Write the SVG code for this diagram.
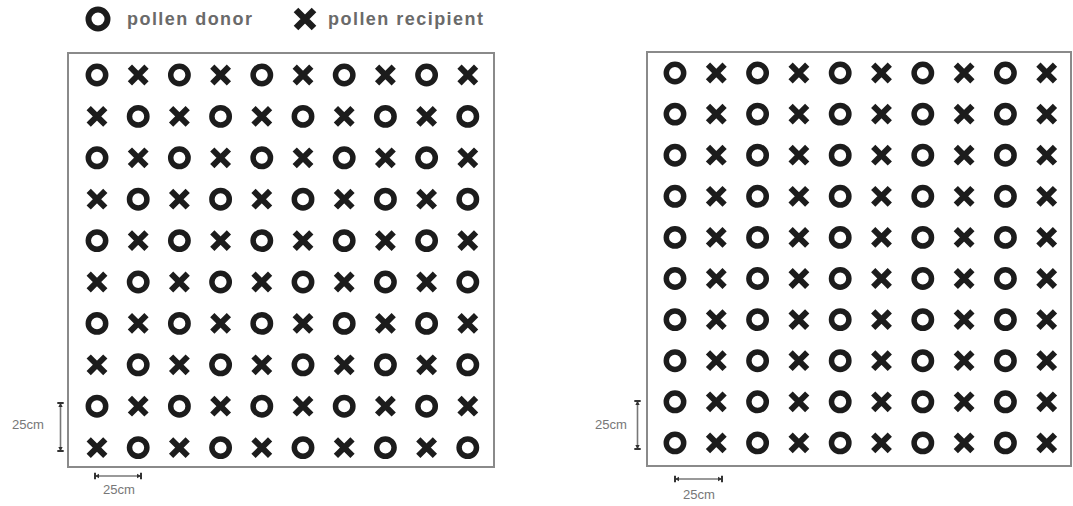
<svg xmlns="http://www.w3.org/2000/svg" width="1073" height="506" viewBox="0 0 1073 506">
<style>
.o{fill:none;stroke:#1c1c1c;stroke-width:5.5}
.x{stroke:#1c1c1c;stroke-width:6;stroke-linecap:butt}
.frame{fill:none;stroke:#8a8a8a;stroke-width:2}
.leg{font-family:"Liberation Sans",Arial,sans-serif;font-size:18px;font-weight:bold;fill:#6a6a6a}
.lbl{font-family:"Liberation Sans",Arial,sans-serif;font-size:12px;fill:#777}
.bar{stroke:#777;stroke-width:1.6;fill:none}
</style>
<defs>
<g id="O"><circle r="8.7" class="o"/></g>
<g id="X"><path d="M-8.3,-8.3L8.3,8.3M8.3,-8.3L-8.3,8.3" class="x"/></g>
<g id="OL"><circle r="9.5" fill="none" stroke="#1c1c1c" stroke-width="6"/></g>
<g id="XL"><path d="M-9,-9L9,9M9,-9L-9,9" stroke="#1c1c1c" stroke-width="6.5"/></g>
<marker id="cap" viewBox="-4 -4 8 8" markerWidth="8" markerHeight="8" refX="0" refY="0" orient="auto" markerUnits="userSpaceOnUse">
<path d="M0,-3.2V3.2" stroke="#333" stroke-width="2"/>
<path d="M-4,-2.2L0,0L-4,2.2Z" fill="#333"/>
</marker>
<marker id="capS" viewBox="-4 -4 8 8" markerWidth="8" markerHeight="8" refX="0" refY="0" orient="auto-start-reverse" markerUnits="userSpaceOnUse">
<path d="M0,-3.2V3.2" stroke="#333" stroke-width="2"/>
<path d="M-4,-2.2L0,0L-4,2.2Z" fill="#333"/>
</marker>
</defs>
<rect width="1073" height="506" fill="#fff"/>

<g id="legend">
<use href="#OL" x="98" y="19"/>
<text class="leg" x="127" y="25" textLength="125" lengthAdjust="spacing">pollen donor</text>
<use href="#XL" x="305" y="19"/>
<text class="leg" x="328" y="25" textLength="155" lengthAdjust="spacing">pollen recipient</text>
</g>

<g id="plot-left">
<rect class="frame" x="68" y="53" width="426" height="414"/>
<g id="grid-left">
<use href="#O" x="97" y="75"/><use href="#X" x="138.2" y="75"/><use href="#O" x="179.4" y="75"/><use href="#X" x="220.6" y="75"/><use href="#O" x="261.8" y="75"/><use href="#X" x="303" y="75"/><use href="#O" x="344.2" y="75"/><use href="#X" x="385.4" y="75"/><use href="#O" x="426.6" y="75"/><use href="#X" x="467.8" y="75"/>
<use href="#X" x="97" y="116.4"/><use href="#O" x="138.2" y="116.4"/><use href="#X" x="179.4" y="116.4"/><use href="#O" x="220.6" y="116.4"/><use href="#X" x="261.8" y="116.4"/><use href="#O" x="303" y="116.4"/><use href="#X" x="344.2" y="116.4"/><use href="#O" x="385.4" y="116.4"/><use href="#X" x="426.6" y="116.4"/><use href="#O" x="467.8" y="116.4"/>
<use href="#O" x="97" y="157.8"/><use href="#X" x="138.2" y="157.8"/><use href="#O" x="179.4" y="157.8"/><use href="#X" x="220.6" y="157.8"/><use href="#O" x="261.8" y="157.8"/><use href="#X" x="303" y="157.8"/><use href="#O" x="344.2" y="157.8"/><use href="#X" x="385.4" y="157.8"/><use href="#O" x="426.6" y="157.8"/><use href="#X" x="467.8" y="157.8"/>
<use href="#X" x="97" y="199.2"/><use href="#O" x="138.2" y="199.2"/><use href="#X" x="179.4" y="199.2"/><use href="#O" x="220.6" y="199.2"/><use href="#X" x="261.8" y="199.2"/><use href="#O" x="303" y="199.2"/><use href="#X" x="344.2" y="199.2"/><use href="#O" x="385.4" y="199.2"/><use href="#X" x="426.6" y="199.2"/><use href="#O" x="467.8" y="199.2"/>
<use href="#O" x="97" y="240.6"/><use href="#X" x="138.2" y="240.6"/><use href="#O" x="179.4" y="240.6"/><use href="#X" x="220.6" y="240.6"/><use href="#O" x="261.8" y="240.6"/><use href="#X" x="303" y="240.6"/><use href="#O" x="344.2" y="240.6"/><use href="#X" x="385.4" y="240.6"/><use href="#O" x="426.6" y="240.6"/><use href="#X" x="467.8" y="240.6"/>
<use href="#X" x="97" y="282"/><use href="#O" x="138.2" y="282"/><use href="#X" x="179.4" y="282"/><use href="#O" x="220.6" y="282"/><use href="#X" x="261.8" y="282"/><use href="#O" x="303" y="282"/><use href="#X" x="344.2" y="282"/><use href="#O" x="385.4" y="282"/><use href="#X" x="426.6" y="282"/><use href="#O" x="467.8" y="282"/>
<use href="#O" x="97" y="323.4"/><use href="#X" x="138.2" y="323.4"/><use href="#O" x="179.4" y="323.4"/><use href="#X" x="220.6" y="323.4"/><use href="#O" x="261.8" y="323.4"/><use href="#X" x="303" y="323.4"/><use href="#O" x="344.2" y="323.4"/><use href="#X" x="385.4" y="323.4"/><use href="#O" x="426.6" y="323.4"/><use href="#X" x="467.8" y="323.4"/>
<use href="#X" x="97" y="364.8"/><use href="#O" x="138.2" y="364.8"/><use href="#X" x="179.4" y="364.8"/><use href="#O" x="220.6" y="364.8"/><use href="#X" x="261.8" y="364.8"/><use href="#O" x="303" y="364.8"/><use href="#X" x="344.2" y="364.8"/><use href="#O" x="385.4" y="364.8"/><use href="#X" x="426.6" y="364.8"/><use href="#O" x="467.8" y="364.8"/>
<use href="#O" x="97" y="406.2"/><use href="#X" x="138.2" y="406.2"/><use href="#O" x="179.4" y="406.2"/><use href="#X" x="220.6" y="406.2"/><use href="#O" x="261.8" y="406.2"/><use href="#X" x="303" y="406.2"/><use href="#O" x="344.2" y="406.2"/><use href="#X" x="385.4" y="406.2"/><use href="#O" x="426.6" y="406.2"/><use href="#X" x="467.8" y="406.2"/>
<use href="#X" x="97" y="447.6"/><use href="#O" x="138.2" y="447.6"/><use href="#X" x="179.4" y="447.6"/><use href="#O" x="220.6" y="447.6"/><use href="#X" x="261.8" y="447.6"/><use href="#O" x="303" y="447.6"/><use href="#X" x="344.2" y="447.6"/><use href="#O" x="385.4" y="447.6"/><use href="#X" x="426.6" y="447.6"/><use href="#O" x="467.8" y="447.6"/>
</g>
</g>

<g id="plot-right">
<rect class="frame" x="647" y="52" width="424" height="414"/>
<g id="grid-right">
<use href="#O" x="675" y="73"/><use href="#X" x="716.3" y="73"/><use href="#O" x="757.6" y="73"/><use href="#X" x="798.9" y="73"/><use href="#O" x="840.2" y="73"/><use href="#X" x="881.5" y="73"/><use href="#O" x="922.8" y="73"/><use href="#X" x="964.1" y="73"/><use href="#O" x="1005.4" y="73"/><use href="#X" x="1046.7" y="73"/>
<use href="#O" x="675" y="114.1"/><use href="#X" x="716.3" y="114.1"/><use href="#O" x="757.6" y="114.1"/><use href="#X" x="798.9" y="114.1"/><use href="#O" x="840.2" y="114.1"/><use href="#X" x="881.5" y="114.1"/><use href="#O" x="922.8" y="114.1"/><use href="#X" x="964.1" y="114.1"/><use href="#O" x="1005.4" y="114.1"/><use href="#X" x="1046.7" y="114.1"/>
<use href="#O" x="675" y="155.2"/><use href="#X" x="716.3" y="155.2"/><use href="#O" x="757.6" y="155.2"/><use href="#X" x="798.9" y="155.2"/><use href="#O" x="840.2" y="155.2"/><use href="#X" x="881.5" y="155.2"/><use href="#O" x="922.8" y="155.2"/><use href="#X" x="964.1" y="155.2"/><use href="#O" x="1005.4" y="155.2"/><use href="#X" x="1046.7" y="155.2"/>
<use href="#O" x="675" y="196.3"/><use href="#X" x="716.3" y="196.3"/><use href="#O" x="757.6" y="196.3"/><use href="#X" x="798.9" y="196.3"/><use href="#O" x="840.2" y="196.3"/><use href="#X" x="881.5" y="196.3"/><use href="#O" x="922.8" y="196.3"/><use href="#X" x="964.1" y="196.3"/><use href="#O" x="1005.4" y="196.3"/><use href="#X" x="1046.7" y="196.3"/>
<use href="#O" x="675" y="237.4"/><use href="#X" x="716.3" y="237.4"/><use href="#O" x="757.6" y="237.4"/><use href="#X" x="798.9" y="237.4"/><use href="#O" x="840.2" y="237.4"/><use href="#X" x="881.5" y="237.4"/><use href="#O" x="922.8" y="237.4"/><use href="#X" x="964.1" y="237.4"/><use href="#O" x="1005.4" y="237.4"/><use href="#X" x="1046.7" y="237.4"/>
<use href="#O" x="675" y="278.5"/><use href="#X" x="716.3" y="278.5"/><use href="#O" x="757.6" y="278.5"/><use href="#X" x="798.9" y="278.5"/><use href="#O" x="840.2" y="278.5"/><use href="#X" x="881.5" y="278.5"/><use href="#O" x="922.8" y="278.5"/><use href="#X" x="964.1" y="278.5"/><use href="#O" x="1005.4" y="278.5"/><use href="#X" x="1046.7" y="278.5"/>
<use href="#O" x="675" y="319.6"/><use href="#X" x="716.3" y="319.6"/><use href="#O" x="757.6" y="319.6"/><use href="#X" x="798.9" y="319.6"/><use href="#O" x="840.2" y="319.6"/><use href="#X" x="881.5" y="319.6"/><use href="#O" x="922.8" y="319.6"/><use href="#X" x="964.1" y="319.6"/><use href="#O" x="1005.4" y="319.6"/><use href="#X" x="1046.7" y="319.6"/>
<use href="#O" x="675" y="360.7"/><use href="#X" x="716.3" y="360.7"/><use href="#O" x="757.6" y="360.7"/><use href="#X" x="798.9" y="360.7"/><use href="#O" x="840.2" y="360.7"/><use href="#X" x="881.5" y="360.7"/><use href="#O" x="922.8" y="360.7"/><use href="#X" x="964.1" y="360.7"/><use href="#O" x="1005.4" y="360.7"/><use href="#X" x="1046.7" y="360.7"/>
<use href="#O" x="675" y="401.8"/><use href="#X" x="716.3" y="401.8"/><use href="#O" x="757.6" y="401.8"/><use href="#X" x="798.9" y="401.8"/><use href="#O" x="840.2" y="401.8"/><use href="#X" x="881.5" y="401.8"/><use href="#O" x="922.8" y="401.8"/><use href="#X" x="964.1" y="401.8"/><use href="#O" x="1005.4" y="401.8"/><use href="#X" x="1046.7" y="401.8"/>
<use href="#O" x="675" y="442.9"/><use href="#X" x="716.3" y="442.9"/><use href="#O" x="757.6" y="442.9"/><use href="#X" x="798.9" y="442.9"/><use href="#O" x="840.2" y="442.9"/><use href="#X" x="881.5" y="442.9"/><use href="#O" x="922.8" y="442.9"/><use href="#X" x="964.1" y="442.9"/><use href="#O" x="1005.4" y="442.9"/><use href="#X" x="1046.7" y="442.9"/>
</g>
</g>

<g id="scale-bars">
<line class="bar" x1="60.5" y1="403" x2="60.5" y2="451" marker-start="url(#capS)" marker-end="url(#cap)"/>
<line class="bar" x1="95" y1="476" x2="141" y2="476" marker-start="url(#capS)" marker-end="url(#cap)"/>
<line class="bar" x1="637.5" y1="401" x2="637.5" y2="449" marker-start="url(#capS)" marker-end="url(#cap)"/>
<line class="bar" x1="675" y1="479" x2="722" y2="479" marker-start="url(#capS)" marker-end="url(#cap)"/>
</g>

<g id="scale-labels">
<text class="lbl" x="28" y="429" text-anchor="middle" textLength="32" lengthAdjust="spacingAndGlyphs">25cm</text>
<text class="lbl" x="119" y="494" text-anchor="middle" textLength="32" lengthAdjust="spacingAndGlyphs">25cm</text>
<text class="lbl" x="611" y="429" text-anchor="middle" textLength="32" lengthAdjust="spacingAndGlyphs">25cm</text>
<text class="lbl" x="699" y="499" text-anchor="middle" textLength="32" lengthAdjust="spacingAndGlyphs">25cm</text>
</g>
</svg>
